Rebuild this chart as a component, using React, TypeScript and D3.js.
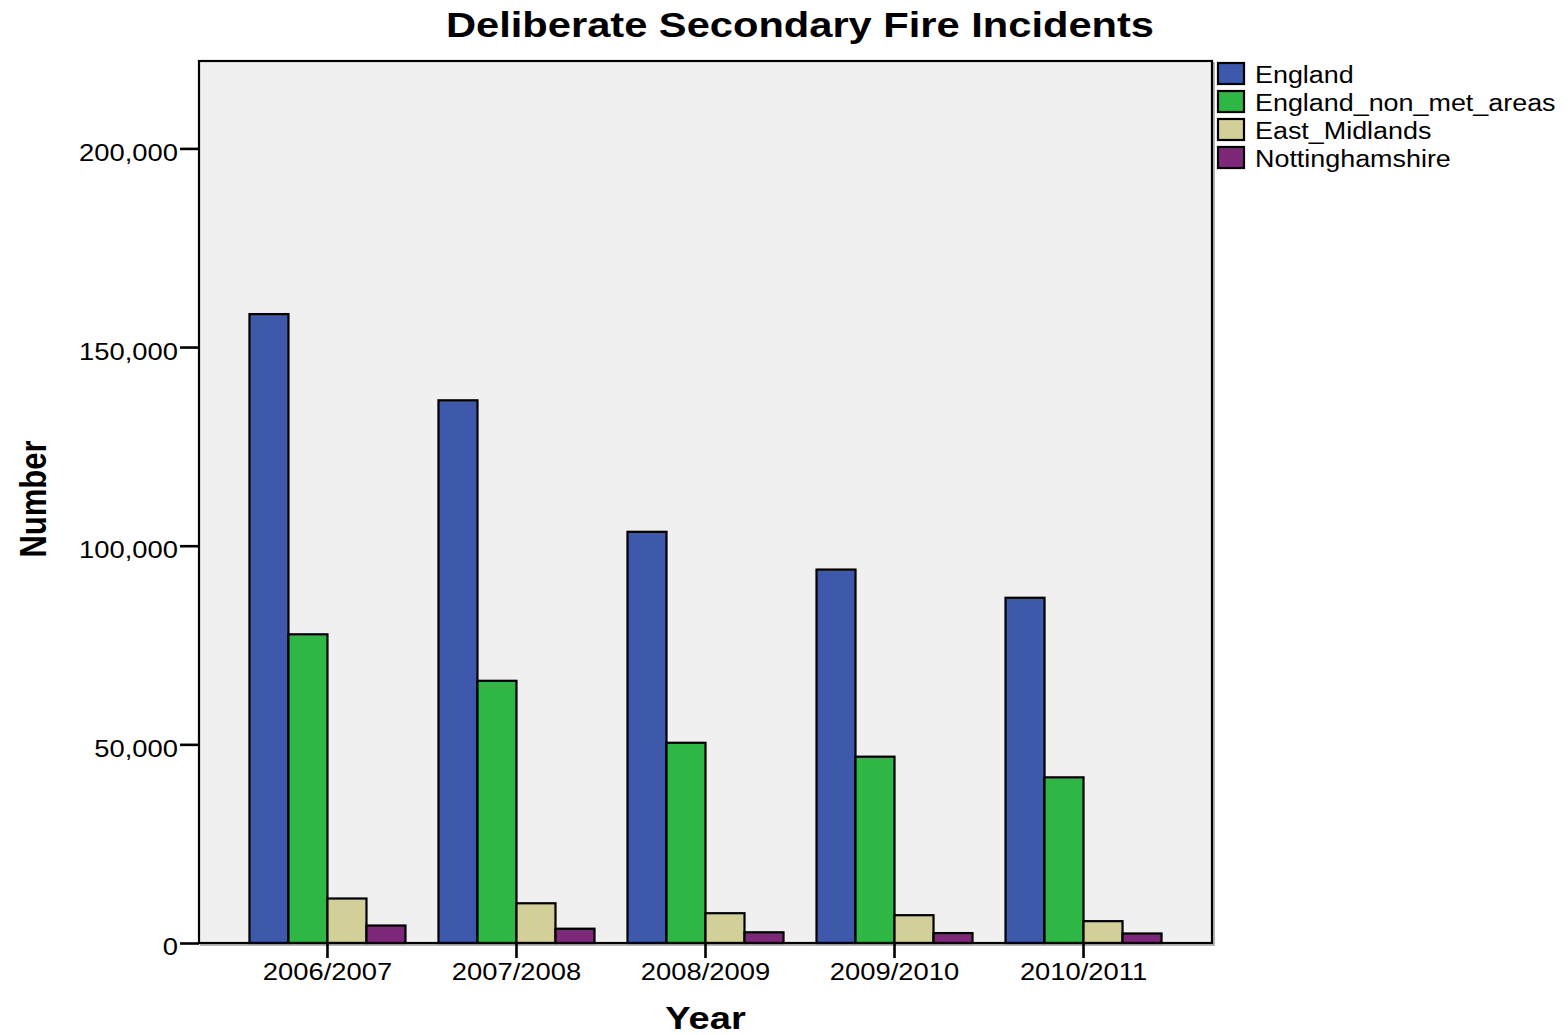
import React, { useRef, useEffect } from 'react';
import * as d3 from 'd3';

const years = ['2006/2007', '2007/2008', '2008/2009', '2009/2010', '2010/2011'];
const seriesNames = ['England', 'England_non_met_areas', 'East_Midlands', 'Nottinghamshire'];
const england = [158300, 136600, 103500, 94000, 86900];
const englandNonMet = [77700, 66000, 50400, 46900, 41700];
const eastMidlands = [11200, 10000, 7500, 7000, 5500];
const nottinghamshire = [4400, 3600, 2700, 2500, 2400];
const seriesColors = ['#3e58ab', '#2fb746', '#d3cf98', '#7d2878'];
const yTicks = [0, 50000, 100000, 150000, 200000];

const W = 1568;
const H = 1035;
// the source image is stretched sideways, so every label gets widened a bit
const SX = 1.19;
const FONT = '"Liberation Sans", Arial, Helvetica, sans-serif';

export default function App() {
  const svgRef = useRef<SVGSVGElement>(null);

  useEffect(() => {
    if (!svgRef.current) return;
    const svg = d3.select(svgRef.current);
    svg.selectAll('*').remove();

    const plot = { left: 199, right: 1212, top: 61, bottom: 943 };
    const values = [england, englandNonMet, eastMidlands, nottinghamshire];
    const rows = years.map((yr, i) => ({
      year: yr,
      items: seriesNames.map((s, k) => ({ name: s, value: values[k][i], color: seriesColors[k] })),
    }));

    const x0 = d3.scaleBand()
      .domain(years)
      .range([plot.left, plot.right])
      .paddingInner(0.1746)
      .paddingOuter(0.267);

    const x1 = d3.scaleBand()
      .domain(seriesNames)
      .range([0, x0.bandwidth()])
      .padding(0);

    const y = d3.scaleLinear()
      .domain([0, 222000])
      .range([plot.bottom, plot.top]);

    // plot background + shadow
    svg.append('rect')
      .attr('x', plot.left + 2)
      .attr('y', plot.top + 2)
      .attr('width', plot.right - plot.left)
      .attr('height', plot.bottom - plot.top)
      .attr('fill', 'none')
      .attr('stroke', '#a0a0a0')
      .attr('stroke-width', 1.5);

    svg.append('rect')
      .attr('x', plot.left)
      .attr('y', plot.top)
      .attr('width', plot.right - plot.left)
      .attr('height', plot.bottom - plot.top)
      .attr('fill', '#f0f0f0');

    // bars
    svg.append('g')
      .selectAll('g')
      .data(rows)
      .enter()
      .append('g')
      .attr('transform', d => `translate(${x0(d.year)},0)`)
      .selectAll('rect')
      .data(d => d.items)
      .enter()
      .append('rect')
      .attr('x', d => x1(d.name) || 0)
      .attr('y', d => y(d.value))
      .attr('width', x1.bandwidth())
      .attr('height', d => y(0) - y(d.value))
      .attr('fill', d => d.color)
      .attr('stroke', '#000')
      .attr('stroke-width', 2.2);

    // frame on top
    svg.append('rect')
      .attr('x', plot.left)
      .attr('y', plot.top)
      .attr('width', plot.right - plot.left)
      .attr('height', plot.bottom - plot.top)
      .attr('fill', 'none')
      .attr('stroke', '#000')
      .attr('stroke-width', 2.2);

    // Y axis
    svg.append('g')
      .attr('transform', `translate(${plot.left},0)`)
      .call(d3.axisLeft(y).tickValues(yTicks).tickSize(19).tickFormat(d3.format(',')))
      .call(g => g.select('.domain').remove())
      .call(g => g.selectAll('.tick line').attr('stroke', '#000').attr('stroke-width', 2.6))
      .call(g => g.selectAll('.tick text')
        .attr('fill', '#000')
        .attr('x', -21 / SX)
        .attr('dy', '0.52em')
        .attr('transform', `scale(${SX},1)`)
        .style('font-size', '23px')
        .style('font-family', FONT));

    // X axis (tick groups are translated, so scaling the text keeps it centred)
    svg.append('g')
      .attr('transform', `translate(0,${plot.bottom})`)
      .call(d3.axisBottom(x0).tickSize(15).tickPadding(6))
      .call(g => g.select('.domain').remove())
      .call(g => g.selectAll('.tick line').attr('stroke', '#000').attr('stroke-width', 2.6))
      .call(g => g.selectAll('.tick text')
        .attr('fill', '#000')
        .attr('transform', `scale(${SX},1)`)
        .style('font-size', '23px')
        .style('font-family', FONT));

    // title
    svg.append('text')
      .attr('transform', `translate(800,37) scale(${SX},1)`)
      .attr('text-anchor', 'middle')
      .style('font-family', FONT)
      .style('font-size', '35px')
      .style('font-weight', 'bold')
      .text('Deliberate Secondary Fire Incidents');

    // axis titles
    svg.append('text')
      .attr('transform', `translate(${(plot.left + plot.right) / 2},1029) scale(${SX},1)`)
      .attr('text-anchor', 'middle')
      .style('font-family', FONT)
      .style('font-size', '32px')
      .style('font-weight', 'bold')
      .text('Year');

    svg.append('text')
      .attr('transform', `translate(46,499) scale(${SX},1) rotate(-90)`)
      .attr('text-anchor', 'middle')
      .style('font-family', FONT)
      .style('font-size', '31px')
      .style('font-weight', 'bold')
      .text('Number');

    // legend
    const legend = svg.append('g').attr('transform', 'translate(1218,63)');
    const item = legend.selectAll('g')
      .data(seriesNames)
      .enter()
      .append('g')
      .attr('transform', (d, i) => `translate(0,${i * 28})`);
    item.append('rect')
      .attr('width', 26)
      .attr('height', 21)
      .attr('fill', (d, i) => seriesColors[i])
      .attr('stroke', '#000')
      .attr('stroke-width', 2.2);
    item.append('text')
      .attr('transform', `translate(37,20) scale(1.17,1)`)
      .style('font-family', FONT)
      .style('font-size', '23px')
      .text(d => d);
  }, []);

  return (
    <svg
      ref={svgRef}
      width={W}
      height={H}
      style={{ position: 'absolute', left: 0, top: 0, background: '#fff' }}
    />
  );
}
